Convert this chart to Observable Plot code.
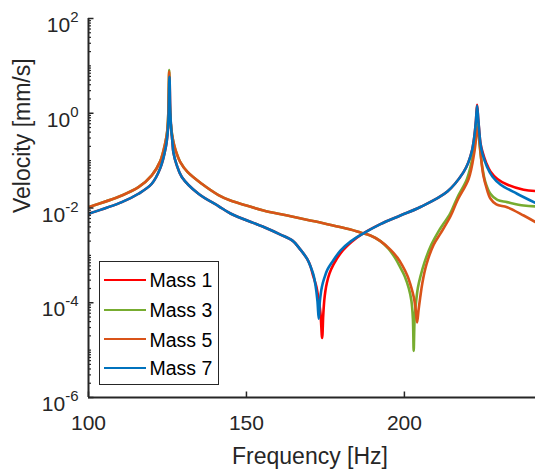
<!DOCTYPE html>
<html>
<head>
<meta charset="utf-8">
<script src="https://cdn.jsdelivr.net/npm/d3@7"></script>
<script src="https://cdn.jsdelivr.net/npm/@observablehq/plot@0.6"></script>
<style>
  body { margin: 0; background: #fff; }
  #wrap { position: relative; width: 535px; height: 476px; overflow: hidden;
          font-family: "Liberation Sans", Arial, Helvetica, sans-serif; }
  #legend { position: absolute; left: 99px; top: 261px; width: 120px; height: 124px;
            box-sizing: border-box; border: 1.5px solid #262626; background: #fff; }
  .sw { position: absolute; left: 3.5px; width: 42px; height: 0; border-top: 2.5px solid; }
  .lt { position: absolute; left: 49.5px; height: 22px; line-height: 22px; font-size: 19.5px; color: #000; white-space: nowrap; }
</style>
</head>
<body>
<div id="wrap"></div>
<script>
// ---- data ----
const seriesNames = ["Mass 1", "Mass 3", "Mass 5", "Mass 7"];
const seriesColors = ["#FF0000", "#77AC30", "#D95319", "#0072BD"];

const mass1Freq = [100,110.54,115.82,120.03,122.69,124.46,125.09,125.38,125.63,125.89,126.17,126.52,126.90,127.85,129.53,134.81,141.14,144.94,155.47,160.76,164.56,167.09,169.21,170.25,171.20,172.15,172.78,173.42,173.96,174.30,174.62,175.0,175.47,176.27,177.53,180.06,183.23,186.08,192.41,198.73,205.06,213.61,218.67,220.25,221.42,222.15,222.66,223.01,223.35,223.67,224.05,224.68,225.95,227.22,229.43,232.50,237.75,241.46];
const mass1Vel = [0.00754,0.0133,0.0200,0.0325,0.0686,0.191,0.416,1.05,5.9,1.05,0.482,0.268,0.146,0.0833,0.0453,0.0200,0.0110,0.00766,0.00396,0.00275,0.00205,0.00132,0.000841,0.000592,0.000355,0.000218,0.000122,0.0000614,0.000018,0.0000531,0.00011,0.000179,0.000265,0.000411,0.000637,0.00117,0.00191,0.00268,0.00458,0.00694,0.0105,0.0223,0.0564,0.0918,0.165,0.326,0.711,1.5,0.783,0.437,0.243,0.157,0.0875,0.0592,0.0411,0.0314,0.0243,0.0229];

const mass3Freq = [100,110.54,115.82,120.03,122.69,124.27,124.91,125.28,125.54,125.79,126.17,126.80,127.53,129.11,131.33,135.85,141.14,144.94,150.0,155.38,162.97,173.42,182.91,186.08,189.24,192.41,194.94,196.99,198.58,200.16,201.42,202.22,202.69,202.94,203.23,203.73,204.27,205.06,206.33,208.54,210.76,214.56,216.77,219.84,221.93,223.20,223.58,224.05,224.68,225.63,227.22,229.43,232.50,237.75,241.46];
const mass3Vel = [0.0104,0.0184,0.0275,0.0488,0.0964,0.232,0.416,1.05,8.2,1.05,0.482,0.262,0.169,0.0918,0.0578,0.0325,0.0188,0.0144,0.0113,0.00886,0.00694,0.00493,0.00351,0.00303,0.00262,0.00200,0.00139,0.000896,0.000578,0.000355,0.000198,0.000110,0.0000458,0.00000964,0.0000458,0.000110,0.000207,0.000355,0.000703,0.00169,0.00318,0.00783,0.0167,0.0415,0.152,0.557,0.310,0.150,0.0719,0.0352,0.0200,0.0148,0.0133,0.0113,0.0108];

const mass5Freq = [100,110.54,115.82,120.03,122.69,124.27,124.91,125.28,125.54,125.79,126.17,126.80,127.53,129.11,131.33,135.85,141.14,144.94,150.0,155.38,162.97,173.42,182.91,186.08,189.24,192.41,195.57,197.78,199.37,200.95,202.22,203.01,203.58,204.02,204.49,205.00,205.70,206.96,209.27,211.39,214.56,216.77,220.35,222.15,223.20,223.73,224.53,225.00,225.95,227.22,229.11,232.50,237.75,241.46];
const mass5Vel = [0.0104,0.0184,0.0275,0.0488,0.0964,0.232,0.416,1.05,7.6,1.05,0.482,0.262,0.169,0.0918,0.0578,0.0325,0.0188,0.0144,0.0113,0.00886,0.00694,0.00493,0.00351,0.00303,0.00262,0.00200,0.00132,0.000896,0.000607,0.000372,0.000207,0.000128,0.0000711,0.0000383,0.0000711,0.000128,0.000265,0.000637,0.00169,0.00288,0.00661,0.0144,0.0415,0.152,0.506,0.268,0.0793,0.0488,0.0272,0.0159,0.0119,0.0104,0.00694,0.00506];

const mass7Freq = [100,110.54,115.82,120.03,122.69,124.46,125.09,125.38,125.63,125.89,126.17,126.52,126.90,127.85,129.53,134.81,141.14,144.94,155.47,160.76,164.56,167.09,169.21,170.25,171.20,171.84,172.47,172.88,173.26,173.89,174.68,175.63,177.22,179.75,182.91,186.08,192.41,198.73,205.06,213.61,218.67,220.25,221.42,222.15,222.66,223.01,223.35,223.67,224.05,224.68,226.17,227.85,230.38,235.66,241.46];
const mass7Vel = [0.00754,0.0133,0.0200,0.0325,0.0686,0.191,0.416,1.05,5.9,1.05,0.482,0.268,0.146,0.0833,0.0453,0.0200,0.0110,0.00766,0.00396,0.00275,0.00205,0.00132,0.000841,0.000592,0.000392,0.000240,0.000110,0.0000458,0.000110,0.000218,0.000338,0.000499,0.000738,0.00126,0.00195,0.00268,0.00458,0.00694,0.0105,0.0223,0.0564,0.0918,0.165,0.326,0.711,1.44,0.783,0.437,0.232,0.142,0.0738,0.0464,0.0314,0.0200,0.0128];

const xTicks = [100, 150, 200];
const yTicks = [1e-6, 1e-4, 1e-2, 1e0, 1e2];

// ---- build table ----
const rows = [];
[[seriesNames[0], mass1Freq, mass1Vel],
 [seriesNames[1], mass3Freq, mass3Vel],
 [seriesNames[2], mass5Freq, mass5Vel],
 [seriesNames[3], mass7Freq, mass7Vel]].forEach(([name, fs, vs]) => {
  fs.forEach((f, i) => rows.push({series: name, f, v: vs[i]}));
});

// minor log ticks (2..9 in each decade + the unlabeled odd decades)
const yMinor = [];
for (let k = -6; k < 2; k++) for (let m = 1; m < 10; m++) {
  if (m === 1 && k % 2 === 0) continue;
  yMinor.push(m * Math.pow(10, k));
}

const axisColor = "#262626";
const font = "Liberation Sans, Arial, Helvetica, sans-serif";

const chart = Plot.plot({
  width: 535, height: 476,
  marginLeft: 88, marginRight: 0, marginTop: 18, marginBottom: 79,
  style: {fontFamily: font, color: axisColor, background: "white", overflow: "visible"},
  x: {domain: [100, 241.5]},
  y: {type: "log", domain: [1e-6, 1e2]},
  color: {domain: seriesNames, range: seriesColors},
  marks: [
    Plot.line(rows, {x: "f", y: "v", z: "series", stroke: "series", strokeWidth: 2.6,
                     curve: "catmull-rom", clip: true}),
    Plot.ruleX([100], {stroke: axisColor, strokeWidth: 2}),
    Plot.ruleY([1e-6], {stroke: axisColor, strokeWidth: 2}),
    Plot.axisY(yMinor, {tickSize: -3, text: null, label: null, stroke: axisColor, strokeWidth: 1.2}),
    Plot.axisY(yTicks, {tickSize: -5.5, text: null, label: null, stroke: axisColor, strokeWidth: 1.5}),
    Plot.axisY(yTicks, {tickSize: 0, tickPadding: 10, label: null, fontSize: 21, fill: axisColor, dy: 7,
                        tickFormat: d => "10^" + Math.round(Math.log10(d))}),
    Plot.axisX(xTicks, {tickSize: -5.5, text: null, label: null, stroke: axisColor, strokeWidth: 1.5}),
    Plot.axisX(xTicks, {tickSize: 0, tickPadding: 18, label: null, fontSize: 21, fill: axisColor,
                        tickFormat: d => String(d)}),
    Plot.text(["Frequency [Hz]"], {frameAnchor: "bottom", lineAnchor: "middle", dy: 59, dx: -2,
                                   fontSize: 23, fill: axisColor}),
    Plot.text(["Velocity [mm/s]"], {frameAnchor: "left", lineAnchor: "middle", rotate: -90, dx: -66, dy: 5,
                                    fontSize: 23, fill: axisColor})
  ]
});

// superscript exponents on the log tick labels
const NS = "http://www.w3.org/2000/svg";
chart.querySelectorAll("text").forEach(t => {
  const s = t.textContent;
  if (s.startsWith("10^")) {
    const exp = s.slice(3).replace("\u2212", "-");
    while (t.firstChild) t.removeChild(t.firstChild);
    const base = document.createElementNS(NS, "tspan");
    base.textContent = "10";
    const sup = document.createElementNS(NS, "tspan");
    sup.textContent = exp;
    sup.setAttribute("dy", "-10");
    sup.setAttribute("font-size", "15");
    t.appendChild(base);
    t.appendChild(sup);
  }
});

const wrap = document.getElementById("wrap");
wrap.appendChild(chart);

// legend
const legend = document.createElement("div");
legend.id = "legend";
const rowCenters = [18.2, 48.2, 77.5, 105.8];
seriesNames.forEach((name, i) => {
  const sw = document.createElement("div");
  sw.className = "sw";
  sw.style.borderTopColor = seriesColors[i];
  sw.style.top = (rowCenters[i] - 1.25) + "px";
  const lt = document.createElement("div");
  lt.className = "lt";
  lt.textContent = name;
  lt.style.top = (rowCenters[i] - 11) + "px";
  legend.appendChild(sw);
  legend.appendChild(lt);
});
wrap.appendChild(legend);
</script>
</body>
</html>
